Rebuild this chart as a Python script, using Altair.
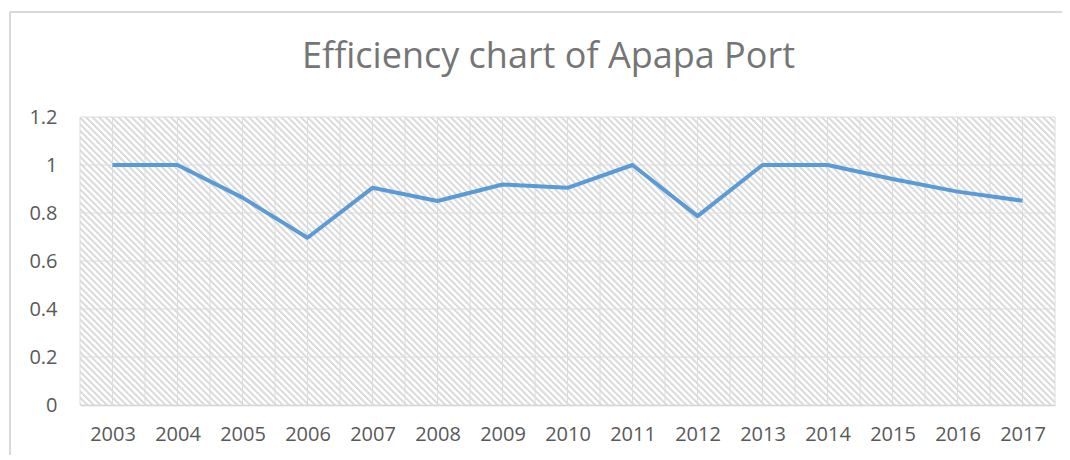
import altair as alt
import pandas as pd

years = list(range(2003, 2018))
efficiency = [1.0, 1.0, 0.864, 0.697, 0.905, 0.85, 0.919, 0.905, 1.0, 0.787,
              1.0, 1.0, 0.942, 0.889, 0.851]
y_ticks = [0, 0.2, 0.4, 0.6, 0.8, 1.0, 1.2]
x_grid = [2002.5 + 0.5 * i for i in range(31)]

df = pd.DataFrame({"year": years, "eff": efficiency})
xg = pd.DataFrame({"g": x_grid})
yg = pd.DataFrame({"t": y_ticks})

W, H = 975, 288

# diagonal hatch via repeating linear gradient (objectBoundingBox units)
r = H / W
k = (1 + r) / (1 + r * r)
period = 6.5
n = int((W + H) / period)
p = 1.0 / n
stops = []
for i in range(n):
    b = i * p
    stops.append(alt.GradientStop(offset=round(b, 6), color="#d8d8d8"))
    stops.append(alt.GradientStop(offset=round(b + 0.22 * p, 6), color="#dcdcdc"))
    stops.append(alt.GradientStop(offset=round(b + 0.5 * p, 6), color="#ffffff"))
    stops.append(alt.GradientStop(offset=round(b + 0.85 * p, 6), color="#ffffff"))
hatch = alt.LinearGradient(gradient="linear", x1=0, y1=1, x2=k, y2=1 - k * r, stops=stops)

x_scale = alt.Scale(domain=[2002.5, 2017.5], nice=False, zero=False)
y_scale = alt.Scale(domain=[0, 1.2], nice=False)
x_axis = alt.Axis(values=x_grid, grid=False, ticks=False, tickSize=0, domain=True,
                  domainColor="#d0d0d0", domainWidth=1.5,
                  labelExpr="datum.value % 1 == 0 ? toString(datum.value) : ''",
                  labelFont="Open Sans", labelFontSize=20, labelColor="#595959",
                  labelPadding=19, labelOverlap=False, title=None)
y_axis = alt.Axis(values=y_ticks, format="~g", grid=False, ticks=False, tickSize=0,
                  domain=False, labelFont="Open Sans", labelFontSize=20,
                  labelColor="#595959", labelPadding=23, title=None)

base = alt.Chart(df)

bg = base.mark_rect(fill=hatch, strokeWidth=0).encode(
    x=alt.value(0), x2=alt.value("width"), y=alt.value(0), y2=alt.value("height")
)

vgrid = alt.Chart(xg).mark_rule(color="#dcdcdc", strokeWidth=1).encode(
    x=alt.X("g:Q", scale=x_scale, axis=x_axis), y=alt.value(0), y2=alt.value("height")
)
hgrid = alt.Chart(yg).mark_rule(color="#dcdcdc", strokeWidth=1).encode(
    y=alt.Y("t:Q", scale=y_scale, axis=y_axis), x=alt.value(0), x2=alt.value("width")
)

line = base.mark_line(color="#5b9bd5", strokeWidth=4, strokeJoin="round").encode(
    x=alt.X("year:Q", scale=x_scale, axis=x_axis),
    y=alt.Y("eff:Q", scale=y_scale, axis=y_axis),
)

frame_left = base.mark_rule(color="#d9d9d9", strokeWidth=1.5).encode(
    x=alt.value(-70), y=alt.value(-105), y2=alt.value(H + 60)
)
frame_top = base.mark_rule(color="#d9d9d9", strokeWidth=1.5).encode(
    x=alt.value(-70), x2=alt.value(W + 10), y=alt.value(-105)
)

chart = alt.layer(bg, vgrid, hgrid, line, frame_left, frame_top).properties(
    width=W, height=H,
    title=alt.TitleParams("Efficiency chart of Apapa Port", font="Open Sans", fontSize=36,
                          fontWeight="normal", color="#757575", anchor="middle",
                          frame="group", baseline="alphabetic", offset=-93, dx=-19),
    autosize=alt.AutoSizeParams(type="none"),
    padding={"left": 72, "top": 109, "right": 7, "bottom": 50},
).configure_view(stroke=None)

chart.save("out.html", embed_options={"renderer": "svg", "actions": False})
